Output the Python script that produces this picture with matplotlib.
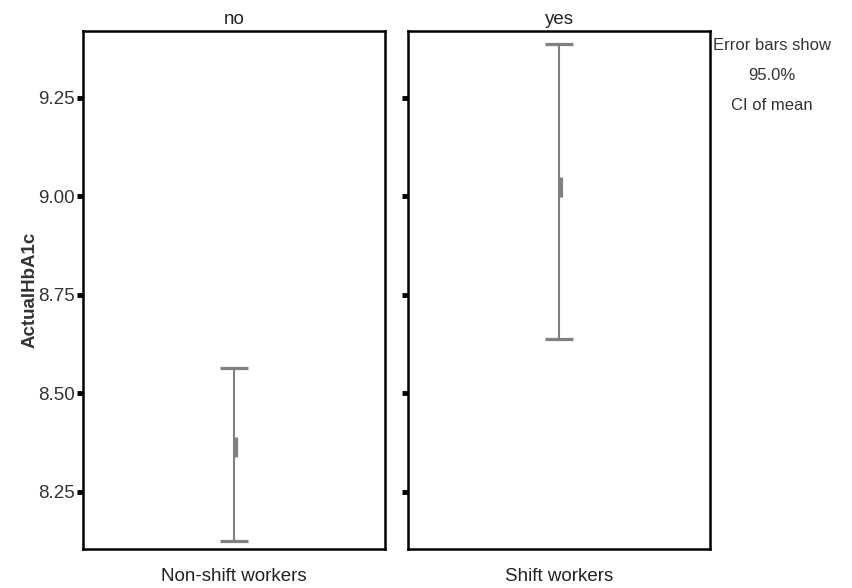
import matplotlib
matplotlib.use("Agg")
import matplotlib.pyplot as plt

# Data
groups = ["no", "yes"]
xlabels = ["Non-shift workers", "Shift workers"]
means = [8.363, 9.025]
ci_lower = [8.126, 8.637]
ci_upper = [8.565, 9.387]
yticks = [8.25, 8.50, 8.75, 9.00, 9.25]
ytick_labels = ["8.25", "8.50", "8.75", "9.00", "9.25"]

FONT = ["Liberation Sans Narrow", "Liberation Sans", "DejaVu Sans"]
plt.rcParams["font.family"] = FONT
FS = 13.5

W, H = 852, 588
fig = plt.figure(figsize=(W / 100, H / 100), dpi=100)

def px_box(x0, y0, x1, y1):
    return [x0 / W, 1 - y1 / H, (x1 - x0) / W, (y1 - y0) / H]

boxes = [px_box(83, 31, 385, 549), px_box(408, 31, 710, 549)]
gray = "#808080"

for i, (g, xl, m, lo, hi) in enumerate(zip(groups, xlabels, means, ci_lower, ci_upper)):
    ax = fig.add_axes(boxes[i])
    ax.set_xlim(-0.5, 0.5)
    ax.set_ylim(8.105, 9.42)
    ax.errorbar([0], [m], yerr=[[m - lo], [hi - m]], fmt="none", ecolor=gray,
                elinewidth=1.5, capsize=10, capthick=2.3)
    ax.plot([0.006], [m], marker="|", markersize=15, markeredgewidth=2.3,
            color=gray, linestyle="none")
    for s in ax.spines.values():
        s.set_linewidth(1.8)
        s.set_color("black")
    ax.set_xticks([])
    ax.set_yticks(yticks)
    if i == 0:
        ax.set_yticklabels(ytick_labels, fontsize=FS, color="#333333")
    else:
        ax.set_yticklabels([])
    ax.tick_params(axis="y", direction="out", length=4, width=3.5, color="black", pad=2)
    ax.set_title(g, fontsize=FS, pad=5, color="#222222")
    ax.set_xlabel(xl, fontsize=FS, labelpad=14, color="#222222")

fig.text(30 / W, 1 - 290 / H, "ActualHbA1c", rotation=90, ha="center", va="center",
         fontsize=13.5, fontweight="bold", family=["Liberation Sans", "DejaVu Sans"],
         color="#333333")

AFS = 12
fig.text(772 / W, 1 - 46 / H, "Error bars show", ha="center", va="center", fontsize=AFS, color="#333333")
fig.text(772 / W, 1 - 76 / H, "95.0%", ha="center", va="center", fontsize=AFS, color="#333333")
fig.text(772 / W, 1 - 106 / H, "CI of mean", ha="center", va="center", fontsize=AFS, color="#333333")

fig.savefig("out.png", dpi=100)
